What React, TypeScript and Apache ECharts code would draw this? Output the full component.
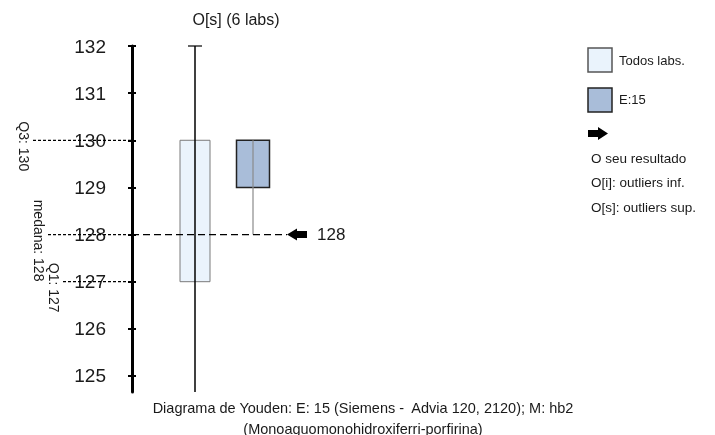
import React, { useEffect, useRef } from "react";
import * as echarts from "echarts";

// ---- data ----
const categories = ["Todos labs.", "E:15"];
const lowValues = [123, 128];
const q1Values = [127, 129];
const medianValues = [128, 130];
const q3Values = [130, 130];
const highValues = [132, 130];
const yourResult = 128;
const tickValues = [125, 126, 127, 128, 129, 130, 131, 132];
const statNames = ["Q3", "medana", "Q1"];
const outlierText = "O[s] (6 labs)";
const legendItems = ["Todos labs.", "E:15"];
const legendNotes = ["O seu resultado", "O[i]: outliers inf.", "O[s]: outliers sup."];
const captionLines = [
  "Diagrama de Youden: E: 15 (Siemens -  Advia 120, 2120); M: hb2",
  "(Monoaguomonohidroxiferri-porfirina)",
];

const FONT = "Liberation Sans, Arial, sans-serif";
const TXT = "#1a1a1a";
const boxFill = ["#eaf3fc", "#a9bdd9"];
const boxStroke = ["#7a7a7a", "#222222"];
const whiskerColor = ["#000000", "#8a8a8a"];

const AXIS_OFFSET = 34;

export default function App() {
  const ref = useRef<HTMLDivElement>(null);
  useEffect(() => {
    if (!ref.current) return;
    const chart = echarts.init(ref.current, null, { renderer: "svg" });

    const boxData = categories.map((_, i) => [i, lowValues[i], q1Values[i], medianValues[i], q3Values[i], highValues[i]]);
    const statValues = [q3Values[0], medianValues[0], q1Values[0]];
    const statStarts = [33, 48, 63];

    const option: any = {
      animation: false,
      grid: { left: 166, width: 116, top: 46, bottom: 43 },
      xAxis: {
        type: "category",
        data: categories,
        show: false,
        boundaryGap: true,
      },
      yAxis: [
        {
          type: "value",
          min: 124.66,
          max: 132,
          offset: AXIS_OFFSET,
          splitLine: { show: false },
          axisLine: { show: true, lineStyle: { color: "#000", width: 3 } },
          axisTick: { show: true, length: 4, lineStyle: { color: "#000", width: 2 }, customValues: tickValues },
          axisLabel: {
            show: true,
            customValues: tickValues,
            margin: 26,
            fontSize: 19,
            fontFamily: FONT,
            color: TXT,
          },
        },
        {
          type: "value",
          min: 124.66,
          max: 132,
          offset: AXIS_OFFSET,
          position: "left",
          splitLine: { show: false },
          axisLine: { show: false },
          axisLabel: { show: false },
          axisTick: { show: true, inside: true, length: 4, lineStyle: { color: "#000", width: 2 }, customValues: tickValues },
        },
      ],
      series: [
        {
          type: "custom",
          name: "guides",
          clip: false,
          z: 3,
          data: statValues.map((v, i) => [0, v, i]),
          encode: { x: 0, y: 1 },
          renderItem: (params: any, api: any) => {
            const i = api.value(2);
            const v = api.value(1);
            const cs = params.coordSys;
            const axisX = cs.x - AXIS_OFFSET;
            const y = api.coord([0, v])[1];
            const x0 = statStarts[i];
            return {
              type: "group",
              children: [
                {
                  type: "line",
                  shape: { x1: x0, y1: y, x2: axisX, y2: y },
                  style: { stroke: "#000", lineWidth: 1.2, lineDash: [3, 2] },
                },
                {
                  type: "text",
                  x: x0 - 9,
                  y: y + 6,
                  rotation: -Math.PI / 2,
                  style: {
                    text: statNames[i] + ": " + v,
                    fontSize: 14,
                    fontFamily: FONT,
                    fill: TXT,
                    align: "center",
                    verticalAlign: "middle",
                  },
                },
              ],
            };
          },
        },
        {
          type: "custom",
          name: "boxes",
          clip: false,
          z: 4,
          data: boxData,
          encode: { x: 0, y: [1, 2, 3, 4, 5] },
          renderItem: (params: any, api: any) => {
            const idx = api.value(0);
            const cs = params.coordSys;
            const bottom = cs.y + cs.height;
            const pHigh = api.coord([idx, api.value(5)]);
            const pLow = api.coord([idx, api.value(1)]);
            const pQ1 = api.coord([idx, api.value(2)]);
            const pQ3 = api.coord([idx, api.value(4)]);
            const cx = pHigh[0];
            const w = idx === 0 ? 30 : 33;
            const yLow = Math.min(pLow[1], bottom);
            const children: any[] = [
              {
                type: "rect",
                shape: { x: cx - w / 2, y: pQ3[1], width: w, height: pQ1[1] - pQ3[1] },
                style: { fill: boxFill[idx], stroke: boxStroke[idx], lineWidth: idx === 0 ? 1 : 1.5 },
              },
              {
                type: "line",
                shape: { x1: cx, y1: pHigh[1], x2: cx, y2: yLow },
                style: { stroke: whiskerColor[idx], lineWidth: idx === 0 ? 1.5 : 1.2 },
              },
            ];
            if (idx === 0) {
              children.push({
                type: "line",
                shape: { x1: cx - 7, y1: pHigh[1], x2: cx + 7, y2: pHigh[1] },
                style: { stroke: "#000", lineWidth: 1.2 },
              });
            }
            return { type: "group", children };
          },
        },
        {
          type: "custom",
          name: "result",
          clip: false,
          z: 5,
          data: [[1, yourResult]],
          encode: { x: 0, y: 1 },
          renderItem: (params: any, api: any) => {
            const cs = params.coordSys;
            const axisX = cs.x - AXIS_OFFSET;
            const p = api.coord([api.value(0), api.value(1)]);
            const tip = p[0] + 34;
            const y = p[1];
            return {
              type: "group",
              children: [
                {
                  type: "line",
                  shape: { x1: axisX, y1: y, x2: tip, y2: y },
                  style: { stroke: "#000", lineWidth: 1.2, lineDash: [7, 4] },
                },
                {
                  type: "polygon",
                  shape: {
                    points: [
                      [tip, y],
                      [tip + 10, y - 6],
                      [tip + 10, y - 3.5],
                      [tip + 20, y - 3.5],
                      [tip + 20, y + 3.5],
                      [tip + 10, y + 3.5],
                      [tip + 10, y + 6],
                    ],
                  },
                  style: { fill: "#000" },
                },
                {
                  type: "text",
                  x: tip + 30,
                  y: y,
                  style: {
                    text: String(api.value(1)),
                    fontSize: 17,
                    fontFamily: FONT,
                    fill: TXT,
                    align: "left",
                    verticalAlign: "middle",
                  },
                },
              ],
            };
          },
        },
      ],
      graphic: [
        {
          type: "text",
          x: 236,
          y: 19,
          style: { text: outlierText, fontSize: 16, fontFamily: FONT, fill: TXT, align: "center", verticalAlign: "middle" },
        },
        ...legendItems.flatMap((name, i) => [
          {
            type: "rect",
            shape: { x: 588, y: 48 + i * 40, width: 24, height: 24 },
            style: { fill: boxFill[i], stroke: i === 0 ? "#555" : "#222", lineWidth: 1.5 },
          },
          {
            type: "text",
            x: 619,
            y: 60 + i * 39,
            style: { text: name, fontSize: 13, fontFamily: FONT, fill: TXT, align: "left", verticalAlign: "middle" },
          },
        ]),
        {
          type: "polygon",
          shape: {
            points: [
              [588, 130],
              [598, 130],
              [598, 127],
              [608, 133.5],
              [598, 140],
              [598, 137],
              [588, 137],
            ],
          },
          style: { fill: "#000" },
        },
        ...legendNotes.map((t, i) => ({
          type: "text",
          x: 591,
          y: 158 + i * 24.5,
          style: { text: t, fontSize: 13.5, fontFamily: FONT, fill: TXT, align: "left", verticalAlign: "middle" },
        })),
        ...captionLines.map((t, i) => ({
          type: "text",
          x: 363,
          y: 408 + i * 20.5,
          style: { text: t, fontSize: 14.5, fontFamily: FONT, fill: TXT, align: "center", verticalAlign: "middle" },
        })),
      ],
    };
    chart.setOption(option);
    return () => chart.dispose();
  }, []);
  return <div ref={ref} style={{ width: 715, height: 435, position: "fixed", left: 0, top: 0 }} />;
}
